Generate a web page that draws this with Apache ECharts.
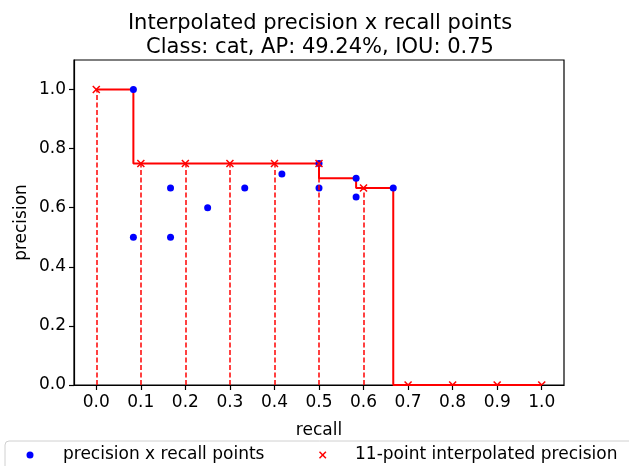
<!DOCTYPE html>
<html>
<head>
<meta charset="utf-8">
<script src="https://cdn.jsdelivr.net/npm/echarts@6/dist/echarts.min.js"></script>
<style>
  html, body { margin: 0; padding: 0; background: #fff; }
  #chart { width: 629px; height: 466px; }
</style>
</head>
<body>
<div id="chart"></div>
<script>
// ---- Data ----
const titleLines = ['Interpolated precision x recall points', 'Class: cat, AP: 49.24%, IOU: 0.75'];
const xTickValues = [0.0, 0.1, 0.2, 0.3, 0.4, 0.5, 0.6, 0.7, 0.8, 0.9, 1.0];
const yTickValues = [0.0, 0.2, 0.4, 0.6, 0.8, 1.0];

// precision x recall points
const pointRecall    = [0.0833, 0.0833, 0.1667, 0.1667, 0.25, 0.3333, 0.4167, 0.5,  0.5,    0.5833, 0.5833, 0.6667];
const pointPrecision = [1.0,    0.5,    0.6667, 0.5,    0.6,  0.6667, 0.7143, 0.75, 0.6667, 0.7,    0.6364, 0.6667];

// 11-point interpolated precision
const interpRecall    = [0.0, 0.1, 0.2, 0.3, 0.4, 0.5, 0.6, 0.7, 0.8, 0.9, 1.0];
const interpPrecision = [1.0, 0.75, 0.75, 0.75, 0.75, 0.75, 0.6667, 0.0, 0.0, 0.0, 0.0];

// interpolated step curve
const stepRecall    = [0.0, 0.0833, 0.0833, 0.5,  0.5, 0.5833, 0.5833, 0.6667, 0.6667, 1.0];
const stepPrecision = [1.0, 1.0,    0.75,   0.75, 0.7, 0.7,    0.6667, 0.6667, 0.0,    0.0];

const seriesNames = ['precision x recall points', '11-point interpolated precision'];

// ---- Build ----
const FONT = 'DejaVu Sans';
const RED = '#ff0000';
const zip = (a, b) => a.map((v, i) => [v, b[i]]);

const dashedLines = interpRecall
  .map((r, i) => [r, interpPrecision[i]])
  .filter(p => p[1] > 0)
  .map(p => [{ coord: [p[0], 0] }, { coord: [p[0], p[1]] }]);

function xMarker(cx, cy, s, extra) {
  return [
    Object.assign({ type: 'line', shape: { x1: cx - s, y1: cy - s, x2: cx + s, y2: cy + s }, style: { stroke: RED, lineWidth: 1.5 } }, extra || {}),
    Object.assign({ type: 'line', shape: { x1: cx + s, y1: cy - s, x2: cx - s, y2: cy + s }, style: { stroke: RED, lineWidth: 1.5 } }, extra || {})
  ];
}

const legendY = 455;
const chart = echarts.init(document.getElementById('chart'), null, { renderer: 'canvas' });
chart.setOption({
  animation: false,
  backgroundColor: '#ffffff',
  textStyle: { fontFamily: FONT },
  title: {
    text: titleLines.join('\n'),
    left: 315, top: 7, textAlign: 'center',
    textStyle: { fontFamily: FONT, fontSize: 21, fontWeight: 'normal', color: '#000', lineHeight: 24 }
  },
  grid: { left: 74, right: 65, top: 60, bottom: 81, show: true, borderColor: '#000', borderWidth: 1.2, backgroundColor: 'transparent' },
  xAxis: {
    type: 'value', min: -0.05, max: 1.05,
    name: 'recall', nameLocation: 'middle', nameGap: 37,
    nameTextStyle: { fontFamily: FONT, fontSize: 17, color: '#000' },
    axisLine: { show: true, onZero: false, lineStyle: { color: '#000', width: 1.2 } },
    axisTick: { show: true, length: 5, customValues: xTickValues, lineStyle: { color: '#000', width: 1.2 } },
    axisLabel: { customValues: xTickValues, margin: 9, fontFamily: FONT, fontSize: 17, color: '#000', formatter: v => v.toFixed(1) },
    splitLine: { show: false }
  },
  yAxis: {
    type: 'value', min: 0, max: 1.1,
    name: 'precision', nameLocation: 'middle', nameGap: 44, nameMoveOverlap: false,
    nameTextStyle: { fontFamily: FONT, fontSize: 17, color: '#000' },
    axisLine: { show: true, onZero: false, lineStyle: { color: '#000', width: 1.2 } },
    axisTick: { show: true, length: 5, customValues: yTickValues, lineStyle: { color: '#000', width: 1.2 } },
    axisLabel: { customValues: yTickValues, margin: 8, fontFamily: FONT, fontSize: 17, color: '#000', formatter: v => v.toFixed(1) },
    splitLine: { show: false }
  },
  graphic: [
    {
      type: 'rect', x: 5, y: 441, z: 100, silent: true,
      shape: { x: 0, y: 0, width: 660, height: 60, r: 4 },
      style: { fill: '#fff', stroke: '#d0d0d0', lineWidth: 1 }
    },
    {
      type: 'circle', z: 101, silent: true,
      shape: { cx: 30, cy: legendY, r: 3.5 },
      style: { fill: '#0000ff' }
    },
    {
      type: 'text', z: 101, silent: true, x: 63, y: legendY,
      style: { text: seriesNames[0], fontFamily: FONT, fontSize: 17, fill: '#000', verticalAlign: 'middle', align: 'left' }
    },
    ...xMarker(322.7, legendY, 3.2, { z: 101, silent: true }),
    {
      type: 'text', z: 101, silent: true, x: 355, y: legendY,
      style: { text: seriesNames[1], fontFamily: FONT, fontSize: 17, fill: '#000', verticalAlign: 'middle', align: 'left' }
    }
  ],
  series: [
    {
      name: 'step', type: 'line', data: zip(stepRecall, stepPrecision),
      showSymbol: false, symbol: 'none', silent: true, clip: true, z: 2,
      lineStyle: { color: RED, width: 2 },
      markLine: {
        silent: true, symbol: ['none', 'none'], label: { show: false },
        animation: false,
        lineStyle: { color: RED, opacity: 0.75, width: 2, type: [5, 2.5] },
        data: dashedLines
      }
    },
    {
      name: seriesNames[0], type: 'scatter', data: zip(pointRecall, pointPrecision),
      symbol: 'circle', symbolSize: 7, z: 3,
      itemStyle: { color: '#0000ff', opacity: 1 }
    },
    {
      name: seriesNames[1], type: 'custom', data: zip(interpRecall, interpPrecision),
      coordinateSystem: 'cartesian2d', clip: true, z: 4, silent: true,
      encode: { x: 0, y: 1 },
      renderItem: function (params, api) {
        const p = api.coord([api.value(0), api.value(1)]);
        return { type: 'group', children: xMarker(p[0], p[1], 3.5) };
      }
    }
  ]
});
</script>
</body>
</html>
